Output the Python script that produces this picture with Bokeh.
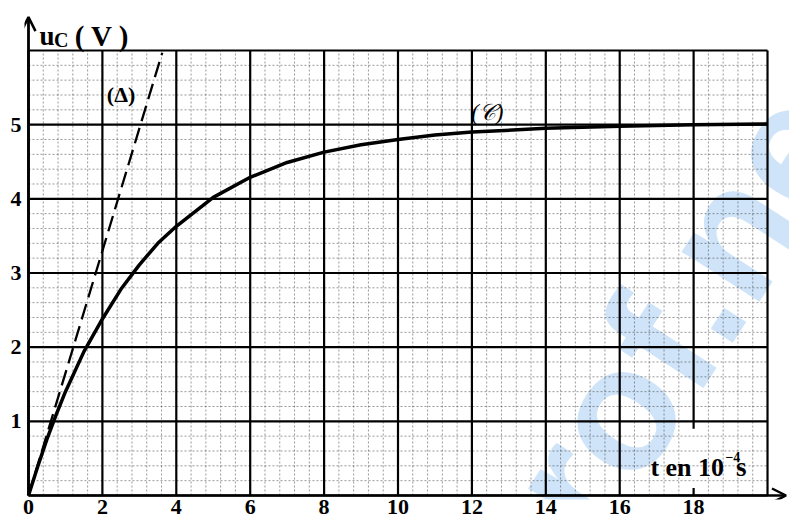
import numpy as np
from bokeh.plotting import figure
from bokeh.models import Range1d, Label, Arrow, OpenHead, FixedTicker
from bokeh.embed import file_html
from bokeh.resources import INLINE

# ---- data ----
t_curve = [0, 0.25, 0.5, 0.75, 1, 1.5, 2, 2.5, 3, 3.5, 4, 5, 6, 7, 8, 9, 10, 11, 12, 14, 16, 18, 20]
u_curve = [0, 0.39, 0.76, 1.09, 1.40, 1.94, 2.38, 2.78, 3.11, 3.40, 3.63, 4.02, 4.29, 4.49,
           4.63, 4.73, 4.80, 4.86, 4.90, 4.95, 4.98, 5.00, 5.01]
t_tangent = [0, 3.62]
u_tangent = [0, 5.97]

x_tick_values = [0, 2, 4, 6, 8, 10, 12, 14, 16, 18]
y_tick_values = [1, 2, 3, 4, 5]
x_major = [0, 2, 4, 6, 8, 10, 12, 14, 16, 18, 20]
y_major = [0, 1, 2, 3, 4, 5, 6]
x_minor_step = 0.4
y_minor_step = 0.2

SERIF = "Liberation Serif"

p = figure(width=789, height=524, output_backend="svg", toolbar_location=None,
           x_range=Range1d(-0.108, 20.595), y_range=Range1d(-0.054, 6.674),
           min_border_left=24, min_border_right=0, min_border_top=0, min_border_bottom=25)
p.outline_line_color = None
p.xgrid.grid_line_color = None
p.ygrid.grid_line_color = None
p.background_fill_color = "white"

# watermark (under everything)
wm = Label(x=14.07, y=-0.27, text="rof.ne", angle=57, angle_units="deg",
           text_font="Liberation Sans", text_font_size="175px", text_font_style="bold",
           text_color="#cfe4f9", text_baseline="alphabetic", level="underlay")
p.add_layout(wm)

# minor grid
x_minor = [v for v in np.arange(0, 20.001, x_minor_step) if abs(v / 2 - round(v / 2)) > 1e-6]
y_minor = [v for v in np.arange(0, 6.001, y_minor_step) if abs(v - round(v)) > 1e-6]
p.segment(x0=x_minor, y0=[0] * len(x_minor), x1=x_minor, y1=[6] * len(x_minor),
          line_color="#333333", line_alpha=0.5, line_width=1, line_dash="2 2")
p.segment(x0=[0] * len(y_minor), y0=y_minor, x1=[20] * len(y_minor), y1=y_minor,
          line_color="#333333", line_alpha=0.5, line_width=1, line_dash="2 2")

# major grid (line at 18 interrupted by the axis caption)
vy0 = [0.9 if v == 18 else 0 for v in x_major]
p.segment(x0=x_major, y0=vy0, x1=x_major, y1=[6] * len(x_major),
          line_color="black", line_width=2.2)
p.segment(x0=[18], y0=[0], x1=[18], y1=[0.1], line_color="black", line_width=2.2)
p.segment(x0=[0] * len(y_major), y0=y_major, x1=[20] * len(y_major), y1=y_major,
          line_color="black", line_width=2.2)

# curve and tangent
p.line(t_tangent, u_tangent, line_color="black", line_width=2.3, line_dash="16 7")
p.line(t_curve, u_curve, line_color="black", line_width=3.5, line_join="round")

# axes arrows
p.add_layout(Arrow(end=OpenHead(size=14, line_width=2.5, line_color="black"),
                   x_start=0, y_start=0, x_end=20.5, y_end=0,
                   line_width=2.6, line_color="black"))
p.add_layout(Arrow(end=OpenHead(size=14, line_width=2.5, line_color="black"),
                   x_start=0, y_start=0, x_end=0, y_end=6.45,
                   line_width=2.8, line_color="black"))

# axes (tick labels only)
for ax, ticks in ((p.xaxis[0], x_tick_values), (p.yaxis[0], y_tick_values)):
    ax.ticker = FixedTicker(ticks=ticks)
    ax.axis_line_color = None
    ax.major_tick_line_color = None
    ax.minor_tick_line_color = None
    ax.major_tick_out = 0
    ax.major_tick_in = 0
    ax.major_label_text_font = SERIF
    ax.major_label_text_font_style = "bold"
    ax.major_label_text_font_size = "22px"
    ax.major_label_text_color = "black"
p.xaxis.major_label_standoff = 0
p.yaxis.major_label_standoff = 3

def lab(x, y, text, size, style="bold", font=SERIF):
    p.add_layout(Label(x=x, y=y, text=text, text_font=font, text_font_size=size,
                       text_font_style=style, text_color="black",
                       text_baseline="alphabetic", text_align="left"))

lab(0.30, 6.20, "u", "27px")
lab(0.69, 6.14, "C", "20px")
lab(1.25, 6.20, "( V )", "29px")
lab(2.12, 5.40, "(Δ)", "22px")
lab(11.98, 5.17, "(𝒞)", "23px", style="italic")
lab(16.83, 0.38, "t en 10", "26px")
lab(18.86, 0.52, "−4", "14px")
lab(19.15, 0.38, "s", "27px")

open("out.html", "w").write(file_html(p, INLINE))
